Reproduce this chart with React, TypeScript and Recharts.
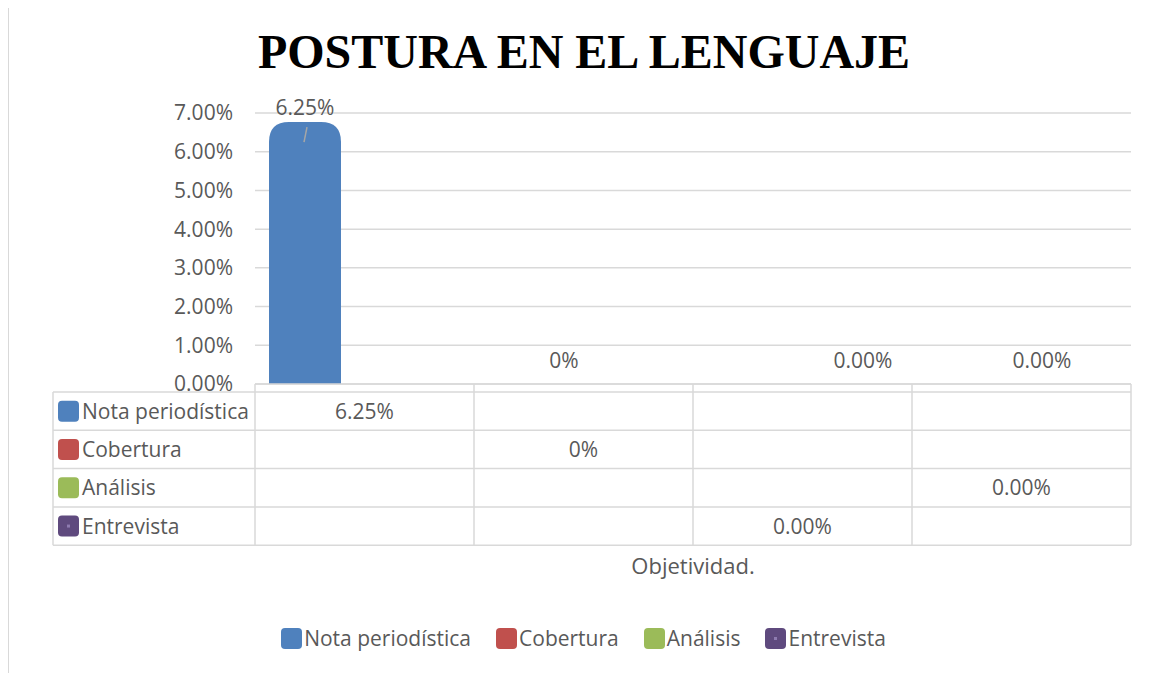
import React from 'react';
import { BarChart, Bar, XAxis, YAxis, CartesianGrid, LabelList, Legend } from 'recharts';

const title = 'POSTURA EN EL LENGUAJE';
const axisTitle = 'Objetividad.';
const categories = ['C1', 'C2', 'C3', 'C4'];
const seriesNames = ['Nota periodística', 'Cobertura', 'Análisis', 'Entrevista'];
const seriesColors = ['#4F81BD', '#C0504D', '#9BBB59', '#5F4A7E'];
const seriesDecimals = [2, 0, 2, 2];
const notaValues = [6.25, null, null, null];
const coberturaValues = [null, 0, null, null];
const analisisValues = [null, null, null, 0];
const entrevistaValues = [null, null, 0, null];
const yTicks = [0, 1, 2, 3, 4, 5, 6, 7];

const seriesValues = [notaValues, coberturaValues, analisisValues, entrevistaValues];
const seriesKeys = ['nota', 'cobertura', 'analisis', 'entrevista'];

const data = categories.map((c, i) => {
  const row: any = { cat: c };
  seriesKeys.forEach((k, s) => {
    row[k] = seriesValues[s][i];
  });
  return row;
});

const FONT = '"Open Sans", sans-serif';
const TEXT = '#595959';
const GRID = '#d9d9d9';
const fmt = (v: number, d: number) => `${v.toFixed(d)}%`;

const RADIUS = 20;
const RoundedBar = (props: any) => {
  const { x, y, width, height, fill, value } = props;
  if (value == null || !height || height <= 0) return null;
  const r = RADIUS;
  const top = y - r;
  const bottom = y + height;
  const d = `M${x},${bottom} L${x},${top + r} Q${x},${top} ${x + r},${top} L${x + width - r},${top} Q${x + width},${top} ${x + width},${top + r} L${x + width},${bottom} Z`;
  return <path d={d} fill={fill} />;
};

const makeLabel = (decimals: number, offset: number) => (props: any) => {
  const { x, y, width, value } = props;
  if (value == null) return null;
  const cx = x + width / 2;
  return (
    <g>
      {Number(value) > 0 ? (
        <line x1={cx - 1} y1={y} x2={cx + 2} y2={y - 15} stroke="#a6a6a6" strokeWidth={1.5} />
      ) : null}
      <text x={cx} y={y - offset} textAnchor="middle" fill={TEXT} fontSize={21} fontFamily={FONT}>
        {fmt(Number(value), decimals)}
      </text>
    </g>
  );
};

const ROW_TOP = 8;
const ROW_H = 38.3;
const HEADER_W = 202;

const KeyBox = ({ x, y, color, dot }: any) => (
  <g>
    <rect x={x} y={y} width={21} height={21} rx={4} ry={4} fill={color} />
    {dot ? <rect x={x + 9} y={y + 9} width={3} height={3} fill="#8E7BB0" /> : null}
  </g>
);

const TableTick = (props: any) => {
  const { x, y, payload, width, visibleTicksCount } = props;
  const idx = payload.index;
  const half = payload.offset && payload.offset > 0 ? payload.offset : width / visibleTicksCount / 2;
  const left = x - half;
  const right = x + half;
  const bottom = y + ROW_TOP + ROW_H * seriesNames.length;
  const lines: any[] = [];
  lines.push(<line key="vl" x1={left} y1={y} x2={left} y2={bottom} stroke={GRID} strokeWidth={1.5} />);
  if (idx === categories.length - 1) {
    lines.push(<line key="vr" x1={right} y1={y} x2={right} y2={bottom} stroke={GRID} strokeWidth={1.5} />);
  }
  for (let r = 0; r <= seriesNames.length; r++) {
    const yy = y + ROW_TOP + ROW_H * r;
    lines.push(<line key={'h' + r} x1={idx === 0 ? left - HEADER_W : left} y1={yy} x2={right} y2={yy} stroke={GRID} strokeWidth={1.5} />);
  }
  const texts = seriesNames.map((name, s) => {
    const v = seriesValues[s][idx];
    if (v == null) return null;
    const cy = y + ROW_TOP + ROW_H * s + ROW_H / 2;
    return (
      <text key={'t' + s} x={x} y={cy} dy="0.36em" textAnchor="middle" fill={TEXT} fontSize={21} fontFamily={FONT}>
        {fmt(v, seriesDecimals[s])}
      </text>
    );
  });
  let header: any = null;
  if (idx === 0) {
    header = (
      <g>
        <line x1={left - HEADER_W} y1={y + ROW_TOP} x2={left - HEADER_W} y2={bottom} stroke={GRID} strokeWidth={1.5} />
        {seriesNames.map((name, s) => {
          const cy = y + ROW_TOP + ROW_H * s + ROW_H / 2;
          return (
            <g key={'hd' + s}>
              <KeyBox x={left - HEADER_W + 5} y={cy - 10.5} color={seriesColors[s]} dot={s === 3} />
              <text x={left - HEADER_W + 29} y={cy} dy="0.36em" fill={TEXT} fontSize={21} fontFamily={FONT}>
                {name}
              </text>
            </g>
          );
        })}
      </g>
    );
  }
  return (
    <g>
      {lines}
      {texts}
      {header}
    </g>
  );
};

const AxisTitle = (props: any) => {
  const { viewBox } = props;
  if (!viewBox) return null;
  return (
    <text x={viewBox.x + viewBox.width / 2} y={viewBox.y + 190} textAnchor="middle" fill={TEXT} fontSize={22} fontFamily={FONT}>
      {axisTitle}
    </text>
  );
};

const LegendContent = () => (
  <div style={{ display: 'flex', justifyContent: 'center', alignItems: 'center', gap: 25, fontFamily: FONT, fontSize: 21, color: TEXT }}>
    {seriesNames.map((name, s) => (
      <div key={name} style={{ display: 'flex', alignItems: 'center' }}>
        <svg width={21} height={21} style={{ marginRight: 2 }}>
          <KeyBox x={0} y={0} color={seriesColors[s]} dot={s === 3} />
        </svg>
        <span style={{ lineHeight: '24px' }}>{name}</span>
      </div>
    ))}
  </div>
);

export default function App() {
  return (
    <div
      style={{
        position: 'relative',
        top: -4,
        width: 1152,
        height: 680,
        border: '1.5px solid #d9d9d9',
        boxSizing: 'border-box',
        background: '#fff',
        fontFamily: FONT,
      }}
    >
      <div
        style={{
          position: 'absolute',
          top: 23,
          left: 0,
          width: '100%',
          textAlign: 'center',
          fontFamily: '"Liberation Serif", "Times New Roman", serif',
          fontWeight: 'bold',
          fontSize: 48,
          lineHeight: 1,
          color: '#000',
          zIndex: 2,
        }}
      >
        {title}
      </div>
      <BarChart
        width={1149}
        height={677}
        data={data}
        margin={{ top: 108, right: 27, left: 146, bottom: 98 }}
        barGap={-32}
        barSize={72}
      >
        <CartesianGrid vertical={false} stroke={GRID} strokeWidth={1.5} />
        <YAxis
          width={100}
          domain={[0, 7]}
          ticks={yTicks}
          tickFormatter={(v: number) => fmt(v, 2)}
          axisLine={false}
          tickLine={false}
          tickSize={0}
          tickMargin={22}
          tick={{ fill: TEXT, fontSize: 21, fontFamily: FONT }}
          interval={0}
        />
        <XAxis
          dataKey="cat"
          height={200}
          axisLine={{ stroke: GRID, strokeWidth: 1.5 }}
          tickLine={false}
          tickSize={0}
          tickMargin={0}
          interval={0}
          tick={<TableTick />}
          label={<AxisTitle />}
        />
        <Legend
          verticalAlign="middle"
          align="center"
          wrapperStyle={{ top: 621, left: 0, width: 1149 }}
          content={<LegendContent />}
        />
        {seriesKeys.map((k, s) => (
          <Bar
            key={k}
            dataKey={k}
            name={seriesNames[s]}
            fill={seriesColors[s]}
            isAnimationActive={false}
            shape={<RoundedBar />}
          >
            <LabelList dataKey={k} content={makeLabel(seriesDecimals[s], s === 0 ? 27 : 16)} />
          </Bar>
        ))}
      </BarChart>
    </div>
  );
}
